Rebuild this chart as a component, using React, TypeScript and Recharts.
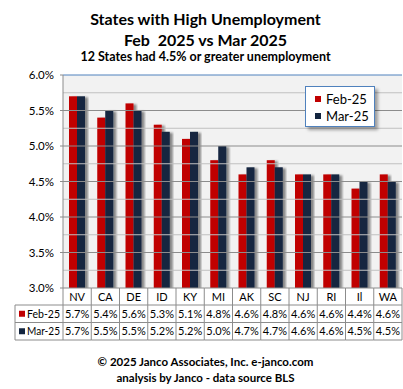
import React from "react";
import { Bar, BarChart, CartesianGrid, ReferenceLine, XAxis, YAxis } from "recharts";

const states = ["NV", "CA", "DE", "ID", "KY", "MI", "AK", "SC", "NJ", "RI", "Il", "WA"];
const feb25 = [5.7, 5.4, 5.6, 5.3, 5.1, 4.8, 4.6, 4.8, 4.6, 4.6, 4.4, 4.6];
const mar25 = [5.7, 5.5, 5.5, 5.2, 5.2, 5.0, 4.7, 4.7, 4.6, 4.6, 4.5, 4.5];
const yTicks = [3, 3.5, 4, 4.5, 5, 5.5, 6];
const minorLines = [3.25, 3.75, 4.25, 4.75, 5.25, 5.75];
const majorLines = [3.5, 4, 4.5, 5, 5.5];

const series = [
  { key: "feb", name: "Feb-25", values: feb25, color: "#c00000" },
  { key: "mar", name: "Mar-25", values: mar25, color: "#13253f" }
];

const data = states.map((state, i) => ({ state, feb: feb25[i], mar: mar25[i] }));

const FONT = "Lato, 'Open Sans', sans-serif";
const W = 403;
const H = 389;
const PLOT_LEFT = 63;
const PLOT_RIGHT = 402;
const BW = (PLOT_RIGHT - PLOT_LEFT) / states.length;
const ROWS = [288, 305, 322.5, 340];
const TABLE_LEFT = 15;
const border = "#8c8c8c";

const fmt = (v: number) => `${v.toFixed(1)}%`;

function TableTick(props: any) {
  const { x, payload } = props;
  const i = payload.index;
  const left = x - BW / 2;
  const right = x + BW / 2;
  return (
    <g fontFamily={FONT} fontSize={11} fill="#000">
      {ROWS.map((y) => (
        <line key={y} x1={left} x2={right} y1={y} y2={y} stroke={border} />
      ))}
      <line x1={right} x2={right} y1={ROWS[0]} y2={ROWS[3]} stroke={border} />
      {i === 0 ? (
        <g>
          <line x1={left} x2={left} y1={ROWS[0]} y2={ROWS[3]} stroke={border} />
          <line x1={TABLE_LEFT} x2={left} y1={ROWS[1]} y2={ROWS[1]} stroke={border} />
          <line x1={TABLE_LEFT} x2={left} y1={ROWS[2]} y2={ROWS[2]} stroke={border} />
          <line x1={TABLE_LEFT} x2={left} y1={ROWS[3]} y2={ROWS[3]} stroke={border} />
          <line x1={TABLE_LEFT} x2={TABLE_LEFT} y1={ROWS[1]} y2={ROWS[3]} stroke={border} />
          {series.map((s, r) => (
            <g key={s.key}>
              <rect x={19} y={(ROWS[r + 1] + ROWS[r + 2]) / 2 - 3} width={6} height={6} fill={s.color} />
              <text x={27} y={(ROWS[r + 1] + ROWS[r + 2]) / 2 + 4} fontSize={10.5} textLength={33} lengthAdjust="spacingAndGlyphs">
                {s.name}
              </text>
            </g>
          ))}
        </g>
      ) : null}
      <text x={x} y={(ROWS[0] + ROWS[1]) / 2 + 4} textAnchor="middle">
        {payload.value}
      </text>
      {series.map((s, r) => (
        <text key={s.key} x={x} y={(ROWS[r + 1] + ROWS[r + 2]) / 2 + 4} textAnchor="middle">
          {fmt(s.values[i])}
        </text>
      ))}
    </g>
  );
}

function ShadowBar(props: any) {
  const { x, y, width, height, fill } = props;
  if (!height || height <= 0) return null;
  return <rect x={x} y={y} width={width} height={height} fill={fill} filter="url(#barShadow)" />;
}

function LegendBox() {
  return (
    <div
      style={{
        position: "absolute",
        left: 305,
        top: 86,
        width: 70,
        height: 41,
        boxSizing: "border-box",
        border: "1px solid #4f81bd",
        background: "#fff",
        boxShadow: "3px 3px 3px rgba(0,0,0,0.35)",
        fontFamily: FONT,
        fontSize: 13,
        padding: "3px 0 0 9px"
      }}
    >
      {series.map((s) => (
        <div key={s.key} style={{ display: "flex", alignItems: "center", height: 17 }}>
          <span style={{ width: 6, height: 6, background: s.color, marginRight: 5 }} />
          <span>{s.name}</span>
        </div>
      ))}
    </div>
  );
}

const textLine = (top: number, size: number, bold: boolean, text: string) => (
  <div
    style={{
      position: "absolute",
      left: 4,
      top,
      width: W,
      textAlign: "center",
      fontFamily: FONT,
      fontSize: size,
      fontWeight: bold ? 700 : 400,
      lineHeight: `${size + 4}px`,
      whiteSpace: "pre",
      color: "#000"
    }}
  >
    {text}
  </div>
);

export default function App() {
  return (
    <div style={{ position: "absolute", left: 0, top: 0, width: W, height: H, background: "#fff", overflow: "hidden" }}>
      {textLine(9, 16, true, "States with High Unemployment")}
      {textLine(30, 16, true, "Feb  2025 vs Mar 2025")}
      {textLine(49, 12.5, true, "12 States had 4.5% or greater unemployment")}
      <BarChart
        width={W}
        height={H}
        data={data}
        margin={{ top: 75, right: W - PLOT_RIGHT, bottom: H - ROWS[3], left: 0 }}
        barGap={0}
        barSize={8}
      >
        <defs>
          <filter id="barShadow" x="-50%" y="-5%" width="200%" height="110%">
            <feDropShadow dx={3} dy={1} stdDeviation={1.3} floodColor="#000" floodOpacity={0.45} />
          </filter>
        </defs>
        <CartesianGrid fill="#f2f2f2" horizontal={false} vertical={false} stroke="none" />
        {minorLines.map((v) => (
          <ReferenceLine key={`mi${v}`} y={v} stroke="#c0c0c0" />
        ))}
        {majorLines.map((v) => (
          <ReferenceLine key={`ma${v}`} y={v} stroke="#8c8c8c" />
        ))}
        <ReferenceLine y={6} stroke="#4f81bd" />
        <XAxis
          dataKey="state"
          axisLine={false}
          tickLine={false}
          interval={0}
          height={ROWS[3] - ROWS[0]}
          tick={<TableTick />}
        />
        <YAxis
          domain={[3, 6]}
          ticks={yTicks}
          tickFormatter={fmt}
          width={PLOT_LEFT}
          tickSize={3}
          tickMargin={6}
          axisLine={{ stroke: border }}
          tickLine={{ stroke: border }}
          tick={{ fill: "#000", fontSize: 11.5, fontFamily: FONT }}
          allowDataOverflow
        />
        {series.map((s) => (
          <Bar key={s.key} dataKey={s.key} name={s.name} fill={s.color} shape={<ShadowBar />} isAnimationActive={false} />
        ))}
      </BarChart>
      <LegendBox />
      {textLine(354, 11.5, true, "\u00a9 2025 Janco Associates, Inc. e-janco.com")}
      {textLine(370, 11.5, true, "analysis by Janco - data source BLS")}
    </div>
  );
}
